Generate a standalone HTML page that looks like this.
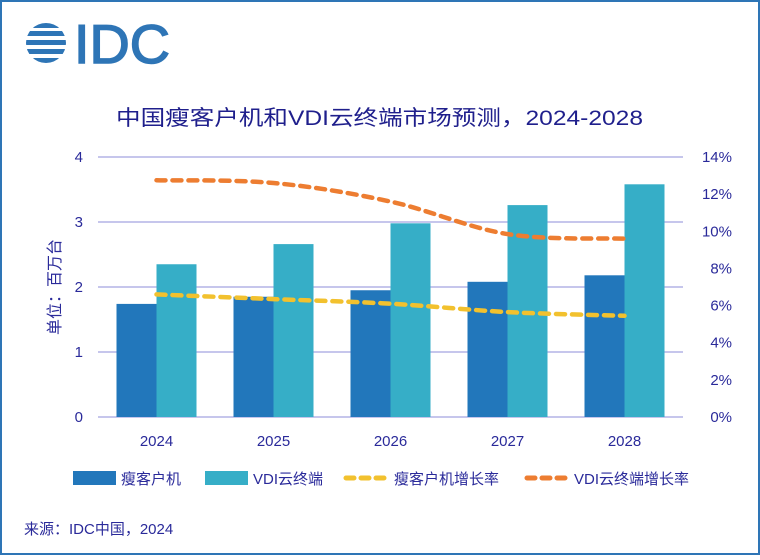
<!DOCTYPE html>
<html><head><meta charset="utf-8"><style>
html,body{margin:0;padding:0;background:#fff}
body{width:760px;height:555px;overflow:hidden;font-family:"Liberation Sans","Noto Sans CJK SC",sans-serif}
</style></head><body>
<svg width="760" height="555" viewBox="0 0 760 555" xmlns="http://www.w3.org/2000/svg" font-family="Liberation Sans, Noto Sans CJK SC, sans-serif">
<rect x="1" y="1" width="758" height="553" fill="#fff" stroke="#2e75b6" stroke-width="2"/>
<g fill="#2e75b6">
  <clipPath id="cc"><circle cx="46" cy="43" r="20"/></clipPath>
  <g clip-path="url(#cc)">
    <rect x="20" y="23" width="52" height="5"/><rect x="20" y="31" width="52" height="5"/>
    <rect x="20" y="40" width="52" height="5"/><rect x="20" y="49" width="52" height="5"/>
    <rect x="20" y="58" width="52" height="5"/>
  </g>
  <text x="74" y="63" font-size="55" fill="#2e75b6" textLength="96" lengthAdjust="spacingAndGlyphs" stroke="#2e75b6" stroke-width="1.5">IDC</text>
</g>
<text x="116" y="125" font-size="21" fill="#1f1f8c" textLength="527" lengthAdjust="spacingAndGlyphs">中国瘦客户机和VDI云终端市场预测，2024-2028</text>
<g id="grid"></g>
<g id="bars"></g>
<g id="lines"></g>
<g id="axes"></g>
<text transform="translate(60,287) rotate(-90)" text-anchor="middle" font-size="16" fill="#2a2a9a">单位：百万台</text>
<g font-size="15" fill="#2a2a9a">
  <g><rect x="73" y="471" width="43" height="14" fill="#2277bb"/><text x="121" y="484">瘦客户机</text></g>
  <g><rect x="205" y="471" width="43" height="14" fill="#36aec7"/><text x="253" y="484">VDI云终端</text></g>
  <g><line x1="346" y1="478" x2="388" y2="478" stroke="#f2c12e" stroke-width="5" stroke-dasharray="8,7" stroke-linecap="round"/><text x="394" y="484">瘦客户机增长率</text></g>
  <g><line x1="527" y1="478" x2="569" y2="478" stroke="#ed7d31" stroke-width="5" stroke-dasharray="8,7" stroke-linecap="round"/><text x="574" y="484">VDI云终端增长率</text></g>
</g>
<text x="24" y="534" font-size="15" fill="#2a2a9a">来源：IDC中国，2024</text>
</svg>
<script>
const categories=["2024","2025","2026","2027","2028"];
const thinClient=[1.74,1.85,1.95,2.08,2.18];
const vdi=[2.35,2.66,2.98,3.26,3.58];
const thinGrowth=[6.6,6.35,6.1,5.65,5.45];
const vdiGrowth=[12.75,12.6,11.6,9.85,9.6];
const leftTicks=[0,1,2,3,4];
const rightTicks=[0,2,4,6,8,10,12,14];
const NS="http://www.w3.org/2000/svg";
const X0=98,X1=683,Y0=417,Y1=157;
const band=(X1-X0)/categories.length;
const xc=i=>X0+band*(i+0.5);
const yL=v=>Y0-(v/4)*(Y0-Y1);
const yR=v=>Y0-(v/14)*(Y0-Y1);
function mk(tag,attrs,parent){const e=document.createElementNS(NS,tag);for(const k in attrs)e.setAttribute(k,attrs[k]);parent.appendChild(e);return e;}
const grid=document.getElementById('grid'),bars=document.getElementById('bars'),lines=document.getElementById('lines'),axes=document.getElementById('axes');
leftTicks.forEach(t=>{
  const l=mk('line',{x1:X0,x2:X1,y1:yL(t),y2:yL(t),stroke:'#b4b4e6','stroke-width':1.5},grid);
  
  
  const tx=mk('text',{x:83,y:yL(t)+5,'text-anchor':'end','font-size':15,fill:'#2a2a9a'},axes);
  tx.textContent=t;
  
  
});
rightTicks.forEach(t=>{
  const tx=mk('text',{x:732,y:yR(t)+5,'text-anchor':'end','font-size':15,fill:'#2a2a9a'},axes);
  tx.textContent=t+'%';
  
  
});
const bw=40;
categories.forEach((c,i)=>{
  const b1=mk('rect',{x:xc(i)-bw,y:yL(thinClient[i]),width:bw,height:Y0-yL(thinClient[i]),fill:'#2277bb'},bars);
  
  
  const b2=mk('rect',{x:xc(i),y:yL(vdi[i]),width:bw,height:Y0-yL(vdi[i]),fill:'#36aec7'},bars);
  
  
  const tx=mk('text',{x:xc(i),y:446,'text-anchor':'middle','font-size':15,fill:'#2a2a9a'},axes);
  tx.textContent=c;
  
  
});
function smooth(pts){let d='M'+pts[0][0]+','+pts[0][1];
  for(let i=0;i<pts.length-1;i++){const p0=pts[Math.max(0,i-1)],p1=pts[i],p2=pts[i+1],p3=pts[Math.min(pts.length-1,i+2)];
    const c1=[p1[0]+(p2[0]-p0[0])/6,p1[1]+(p2[1]-p0[1])/6],c2=[p2[0]-(p3[0]-p1[0])/6,p2[1]-(p3[1]-p1[1])/6];
    d+=' C'+c1+' '+c2+' '+p2;}return d;}
const l1=mk('path',{d:smooth(thinGrowth.map((v,i)=>[xc(i),yR(v)])),fill:'none',stroke:'#f2c12e','stroke-width':4.5,'stroke-dasharray':'9,7','stroke-linecap':'round'},lines);


const l2=mk('path',{d:smooth(vdiGrowth.map((v,i)=>[xc(i),yR(v)])),fill:'none',stroke:'#ed7d31','stroke-width':4.5,'stroke-dasharray':'9,7','stroke-linecap':'round'},lines);


</script>
</body></html>
